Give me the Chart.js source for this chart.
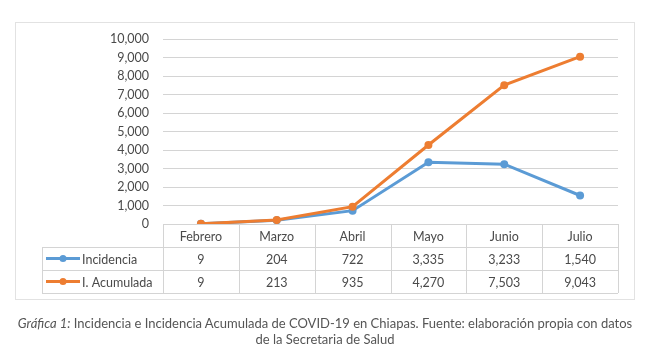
<!DOCTYPE html>
<html>
<head>
<meta charset="utf-8">
<script src="https://cdn.jsdelivr.net/npm/chart.js@4"></script>
<style>
  body { margin: 0; background: #fff; width: 650px; height: 363px; position: relative; overflow: hidden; }
  #frame { position: absolute; left: 15px; top: 22px; width: 620px; height: 278px; border: 1px solid #e2e2e2; box-sizing: border-box; }
  #wrap { position: absolute; left: 0; top: 0; width: 650px; height: 363px; }
  #caption { position: absolute; left: 0; top: 315px; width: 650px; text-align: center; font-family: "Lato", sans-serif; font-size: 13px; line-height: 16px; color: #555; }
  #caption i { font-style: italic; }
</style>
</head>
<body>
<div id="frame"></div>
<div id="wrap"><canvas id="chart" width="650" height="363"></canvas></div>
<div id="caption"><i>Gráfica 1:</i> Incidencia e Incidencia Acumulada de COVID-19 en Chiapas. Fuente: elaboración propia con datos<br>de la Secretaria de Salud</div>
<script>
const months = ["Febrero", "Marzo", "Abril", "Mayo", "Junio", "Julio"];
const incidencia = [9, 204, 722, 3335, 3233, 1540];
const acumulada = [9, 213, 935, 4270, 7503, 9043];
const seriesNames = ["Incidencia", "I. Acumulada"];
const seriesColors = ["#5b9bd5", "#ed7d31"];

const textColor = "#4a4a4a";
const lineColor = "#d4d4d4";
const fontFamily = "Lato, sans-serif";

// data table under the plot, aligned to the x scale
const dataTable = {
  id: "dataTable",
  afterDraw(chart) {
    const ctx = chart.ctx;
    const x = chart.scales.x;
    const area = chart.chartArea;
    const rowH = 23;
    const top = area.bottom;
    const legendLeft = 42;
    const colW = (area.right - area.left) / months.length;
    const rows = [incidencia, acumulada];

    ctx.save();
    ctx.strokeStyle = lineColor;
    ctx.lineWidth = 1;
    ctx.beginPath();
    // horizontal lines
    ctx.moveTo(area.left, top + 0.5); ctx.lineTo(area.right, top + 0.5);
    for (let r = 1; r <= 3; r++) {
      const y = Math.round(top + r * rowH) + 0.5;
      ctx.moveTo(legendLeft, y); ctx.lineTo(area.right, y);
    }
    // vertical lines
    for (let c = 0; c <= months.length; c++) {
      const vx = Math.round(area.left + c * colW) + 0.5;
      ctx.moveTo(vx, top); ctx.lineTo(vx, top + 3 * rowH);
    }
    ctx.moveTo(legendLeft + 0.5, top + rowH); ctx.lineTo(legendLeft + 0.5, top + 3 * rowH);
    ctx.stroke();

    ctx.font = "12.5px " + fontFamily;
    ctx.fillStyle = textColor;
    ctx.textAlign = "center";
    ctx.textBaseline = "middle";
    months.forEach((m, i) => {
      const cx = x.getPixelForValue(i);
      ctx.fillText(m, cx, top + rowH / 2 + 1);
      rows.forEach((vals, r) => {
        ctx.fillText(vals[i].toLocaleString("en-US"), cx, top + rowH * (r + 1.5) + 1);
      });
    });

    // legend keys
    ctx.textAlign = "left";
    seriesNames.forEach((name, r) => {
      const y = top + rowH * (r + 1.5);
      ctx.strokeStyle = seriesColors[r];
      ctx.lineWidth = 3;
      ctx.beginPath();
      ctx.moveTo(46, y); ctx.lineTo(80, y);
      ctx.stroke();
      ctx.fillStyle = seriesColors[r];
      ctx.beginPath();
      ctx.arc(63, y, 3.5, 0, Math.PI * 2);
      ctx.fill();
      ctx.fillStyle = textColor;
      ctx.fillText(name, 82, y + 1);
    });
    ctx.restore();
  }
};

new Chart(document.getElementById("chart"), {
  type: "line",
  data: {
    labels: months,
    datasets: [
      {
        label: seriesNames[0], data: incidencia, order: 1,
        borderColor: seriesColors[0], backgroundColor: seriesColors[0],
        borderWidth: 3, pointRadius: 4, pointBorderWidth: 0, tension: 0
      },
      {
        label: seriesNames[1], data: acumulada, order: 0,
        borderColor: seriesColors[1], backgroundColor: seriesColors[1],
        borderWidth: 3, pointRadius: 4, pointBorderWidth: 0, tension: 0
      }
    ]
  },
  options: {
    responsive: false,
    animation: false,
    layout: { padding: { left: 0, right: 32, top: 39, bottom: 139 } },
    plugins: { legend: { display: false }, tooltip: { enabled: false } },
    scales: {
      x: { display: false, offset: true },
      y: {
        min: 0, max: 10000,
        afterFit(scale) { scale.width = 163; },
        ticks: {
          stepSize: 1000, padding: 14, color: textColor,
          font: { family: fontFamily, size: 12.5 },
          callback: (v) => v.toLocaleString("en-US")
        },
        grid: { color: lineColor, drawTicks: false },
        border: { display: false }
      }
    }
  },
  plugins: [dataTable]
});
</script>
</body>
</html>
